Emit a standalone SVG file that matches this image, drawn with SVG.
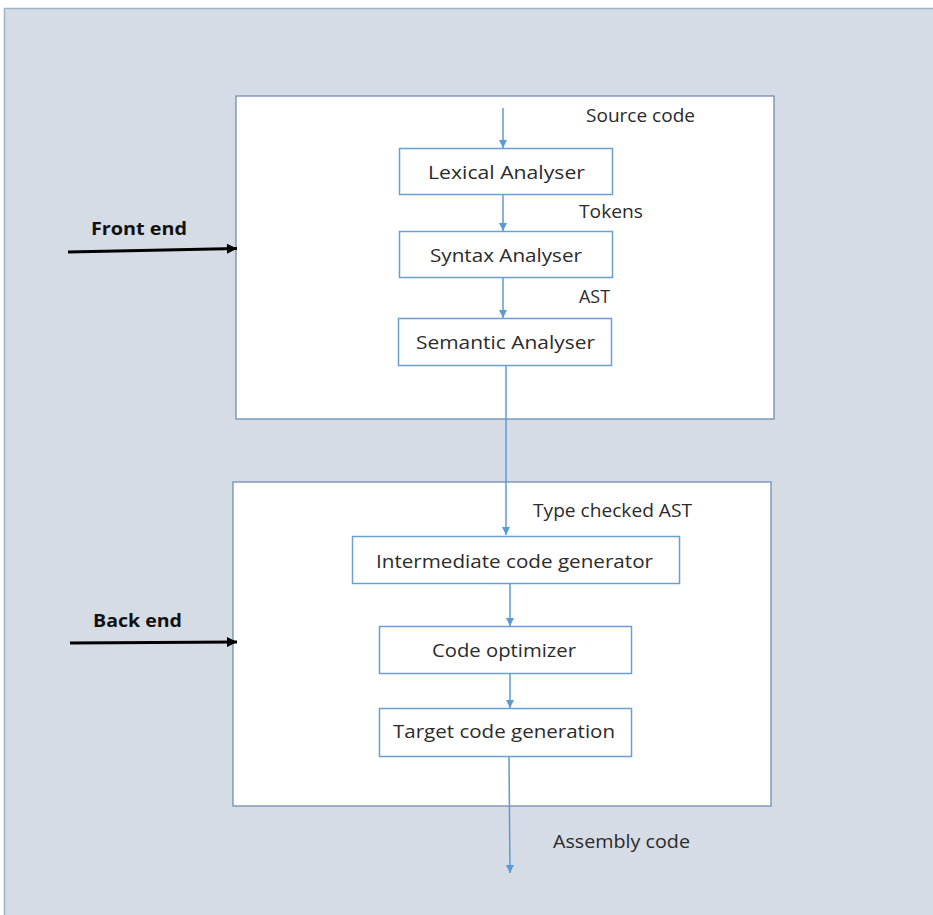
<svg xmlns="http://www.w3.org/2000/svg" width="933" height="915" viewBox="0 0 933 915">
  <style>
    .panel { fill: #ffffff; stroke: #6f8fb3; stroke-width: 1.3; }
    .node rect { fill: #ffffff; stroke: #6a9fd2; stroke-width: 1.5; }
    .node text { font-family: "Open Sans", Lato, sans-serif; font-size: 19px; fill: #2b2b2b; }
    .lbl { font-family: "Open Sans", Lato, sans-serif; font-size: 18px; fill: #2b2b2b; }
    .side { font-family: "Open Sans", Lato, sans-serif; font-size: 18.5px; font-weight: bold; fill: #111111; }
    .flow { stroke: #5b9bd5; stroke-width: 1.5; fill: none; marker-end: url(#blueHead); }
    .stage { stroke: #000000; stroke-width: 3; fill: none; marker-end: url(#blackHead); }
  </style>
  <defs>
    <marker id="blueHead" viewBox="0 0 10 10" refX="10" refY="5" markerWidth="9" markerHeight="8" markerUnits="userSpaceOnUse" orient="auto">
      <path d="M0,0 L10,5 L0,10 z" fill="#5b9bd5"/>
    </marker>
    <marker id="blackHead" viewBox="0 0 10 10" refX="10" refY="5" markerWidth="12" markerHeight="10" markerUnits="userSpaceOnUse" orient="auto">
      <path d="M0,0 L10,5 L0,10 z" fill="#000000"/>
    </marker>
  </defs>

  <!-- canvas -->
  <rect x="0" y="0" width="933" height="915" fill="#ffffff"/>
  <rect x="4.5" y="8.5" width="940" height="920" fill="#d6dce5" stroke="#9fb2ca" stroke-width="1.5"/>

  <!-- stage panels -->
  <rect id="frontEndPanel" class="panel" x="236" y="96" width="538" height="323"/>
  <rect id="backEndPanel" class="panel" x="233" y="482" width="538" height="324"/>

  <!-- connectors -->
  <g id="connectors">
    <line class="flow" x1="503" y1="108" x2="503" y2="148"/>
    <line class="flow" x1="503" y1="194" x2="503" y2="231"/>
    <line class="flow" x1="503" y1="277" x2="503" y2="318"/>
    <line class="flow" x1="506" y1="366" x2="506" y2="535"/>
    <line class="flow" x1="510" y1="584" x2="510" y2="626"/>
    <line class="flow" x1="510" y1="673" x2="510" y2="708"/>
    <line class="flow" x1="509" y1="757" x2="510" y2="873"/>
    <line class="stage" x1="68" y1="252" x2="237" y2="248.5"/>
    <line class="stage" x1="70" y1="643" x2="237" y2="642"/>
  </g>

  <!-- flow labels -->
  <text class="lbl" x="586" y="122" textLength="109" lengthAdjust="spacingAndGlyphs">Source code</text>
  <text class="lbl" x="579" y="218" textLength="64" lengthAdjust="spacingAndGlyphs">Tokens</text>
  <text class="lbl" x="579" y="303" textLength="31" lengthAdjust="spacingAndGlyphs">AST</text>
  <text class="lbl" x="533" y="517" textLength="159" lengthAdjust="spacingAndGlyphs">Type checked AST</text>
  <text class="lbl" x="553" y="848" textLength="137" lengthAdjust="spacingAndGlyphs">Assembly code</text>

  <text class="side" x="91" y="235" textLength="96" lengthAdjust="spacingAndGlyphs">Front end</text>
  <text class="side" x="93" y="627" textLength="89" lengthAdjust="spacingAndGlyphs">Back end</text>

  <!-- nodes -->
  <g id="lexical" class="node">
    <rect x="399.5" y="148.5" width="213" height="46"/>
    <text x="428" y="179" textLength="157" lengthAdjust="spacingAndGlyphs">Lexical Analyser</text>
  </g>
  <g id="syntax" class="node">
    <rect x="399.5" y="231.5" width="213" height="46"/>
    <text x="430" y="262" textLength="152" lengthAdjust="spacingAndGlyphs">Syntax Analyser</text>
  </g>
  <g id="semantic" class="node">
    <rect x="398.5" y="318.5" width="213" height="47"/>
    <text x="416" y="349" textLength="179" lengthAdjust="spacingAndGlyphs">Semantic  Analyser</text>
  </g>
  <g id="intermediate" class="node">
    <rect x="352.5" y="536.5" width="327" height="47"/>
    <text x="376" y="568" textLength="277" lengthAdjust="spacingAndGlyphs">Intermediate  code generator</text>
  </g>
  <g id="optimizer" class="node">
    <rect x="379.5" y="626.5" width="252" height="47"/>
    <text x="432" y="657" textLength="144" lengthAdjust="spacingAndGlyphs">Code optimizer</text>
  </g>
  <g id="target" class="node">
    <rect x="379.5" y="708.5" width="252" height="48"/>
    <text x="393" y="738" textLength="222" lengthAdjust="spacingAndGlyphs">Target code generation</text>
  </g>
</svg>
